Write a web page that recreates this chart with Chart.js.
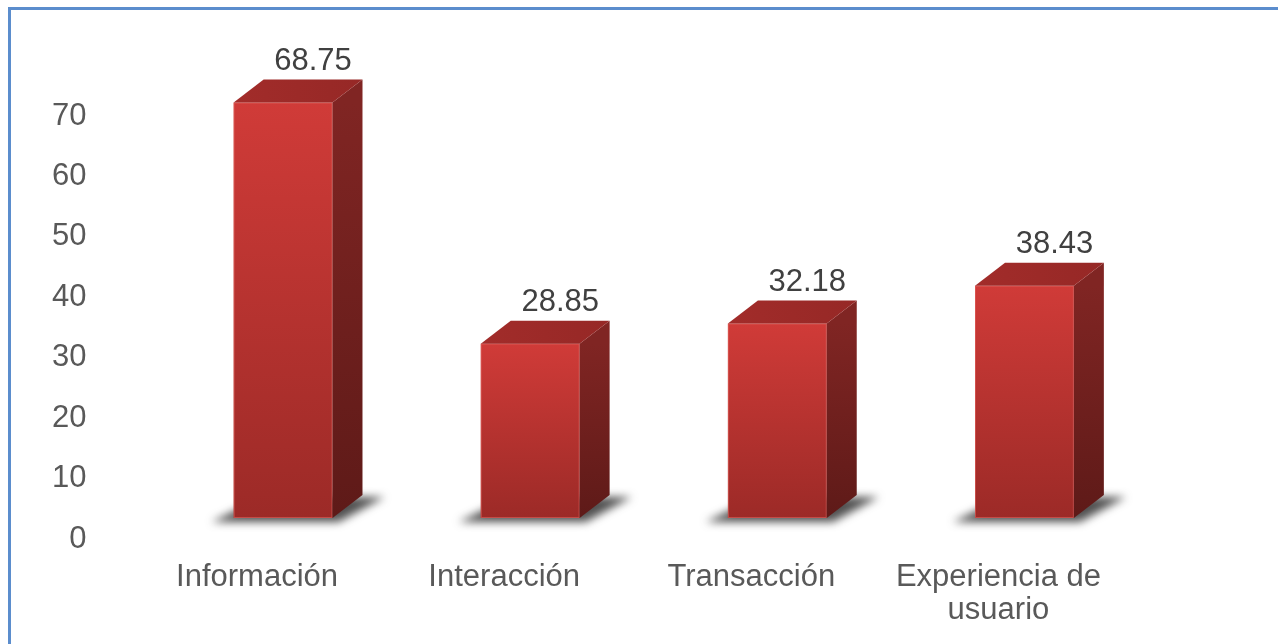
<!DOCTYPE html>
<html lang="es">
  <head>
    <meta charset="UTF-8" />
    <title>Dimensiones</title>
    <style>
      html, body {
        margin: 0;
        padding: 0;
        background: #fff;
        overflow: hidden;
      }
      .frame {
        position: absolute;
        left: 8px;
        top: 7px;
        width: 1400px;
        height: 800px;
        border: 3px solid #5b8dcd;
      }
      .wrap {
        position: absolute;
        left: 0;
        top: 0;
        width: 1278px;
        height: 644px;
      }
    </style>
    <script src="https://cdn.jsdelivr.net/npm/chart.js"></script>
  </head>
  <body>
    <div class="frame"></div>
    <div class="wrap"><canvas id="chart"></canvas></div>

    <script>
      const categories = ["Información", "Interacción", "Transacción", ["Experiencia de", "usuario"]];
      const values = [68.75, 28.85, 32.18, 38.43];
      const yTicks = [0, 10, 20, 30, 40, 50, 60, 70];

      const FONT = "'Liberation Sans', Arial, sans-serif";
      const DX = 30;   // depth of the 3d box
      const DY = -23;

      // draws the 3d boxes, floor shadows and value labels from the bar elements
      const bars3d = {
        id: "bars3d",
        afterDatasetsDraw(chart) {
          const ctx = chart.ctx;
          const meta = chart.getDatasetMeta(0);
          meta.data.forEach((el, i) => {
            const { x, y, base, width } = el.getProps(["x", "y", "base", "width"], true);
            const l = x - width / 2;
            const r = x + width / 2;

            // floor shadow
            ctx.save();
            ctx.filter = "blur(4px)";
            ctx.fillStyle = "rgba(50,50,50,0.85)";
            ctx.beginPath();
            ctx.moveTo(l - 22, base + 4);
            ctx.lineTo(r + 6, base + 4);
            ctx.lineTo(r + DX + 22, base + DY + 2);
            ctx.lineTo(l + DX, base + DY + 2);
            ctx.closePath();
            ctx.fill();
            ctx.restore();

            // front face
            const gFront = ctx.createLinearGradient(0, y, 0, base);
            gFront.addColorStop(0, "#d03b38");
            gFront.addColorStop(1, "#9c2a27");
            ctx.fillStyle = gFront;
            ctx.fillRect(l, y, width, base - y);
            ctx.strokeStyle = "rgba(225,100,95,0.6)";
            ctx.lineWidth = 1;
            ctx.strokeRect(l + 0.5, y + 0.5, width - 1, base - y - 1);

            // side face
            const gSide = ctx.createLinearGradient(0, y, 0, base);
            gSide.addColorStop(0, "#802523");
            gSide.addColorStop(1, "#5e1a18");
            ctx.fillStyle = gSide;
            ctx.beginPath();
            ctx.moveTo(r, y);
            ctx.lineTo(r + DX, y + DY);
            ctx.lineTo(r + DX, base + DY);
            ctx.lineTo(r, base);
            ctx.closePath();
            ctx.fill();

            // top face
            const gTop = ctx.createLinearGradient(l, 0, r + DX, 0);
            gTop.addColorStop(0, "#a22c2a");
            gTop.addColorStop(1, "#962826");
            ctx.fillStyle = gTop;
            ctx.beginPath();
            ctx.moveTo(l, y);
            ctx.lineTo(l + DX, y + DY);
            ctx.lineTo(r + DX, y + DY);
            ctx.lineTo(r, y);
            ctx.closePath();
            ctx.fill();

            // value label
            ctx.fillStyle = "#404040";
            ctx.font = "31px " + FONT;
            ctx.textAlign = "center";
            ctx.textBaseline = "middle";
            ctx.fillText(values[i].toFixed(2), x + DX, y + DY - 18);
          });
        },
      };

      new Chart(document.getElementById("chart"), {
        type: "bar",
        data: {
          labels: categories,
          datasets: [
            {
              data: values,
              backgroundColor: "rgba(0,0,0,0)",
              borderWidth: 0,
              categoryPercentage: 1,
              barPercentage: 0.4,
            },
          ],
        },
        options: {
          responsive: true,
          maintainAspectRatio: false,
          animation: false,
          events: [],
          layout: {
            padding: { top: 95, right: 130, bottom: 0, left: 0 },
          },
          plugins: {
            legend: { display: false },
            tooltip: { enabled: false },
          },
          scales: {
            x: {
              grid: { display: false, drawTicks: false },
              border: { display: false },
              ticks: {
                color: "#595959",
                font: { family: FONT, size: 31, lineHeight: 1.07 },
                padding: 43,
                labelOffset: -26,
                maxRotation: 0,
                autoSkip: false,
              },
              afterFit(scale) {
                scale.height = 126;
              },
            },
            y: {
              min: 0,
              max: 70,
              afterBuildTicks(scale) {
                scale.ticks = yTicks.map((v) => ({ value: v }));
              },
              grid: { display: false, drawTicks: false },
              border: { display: false },
              ticks: {
                color: "#595959",
                font: { family: FONT, size: 31 },
                padding: 73,
                labelOffset: 21,
              },
              afterFit(scale) {
                scale.width = 159.5;
              },
            },
          },
        },
        plugins: [bars3d],
      });
    </script>
  </body>
</html>
